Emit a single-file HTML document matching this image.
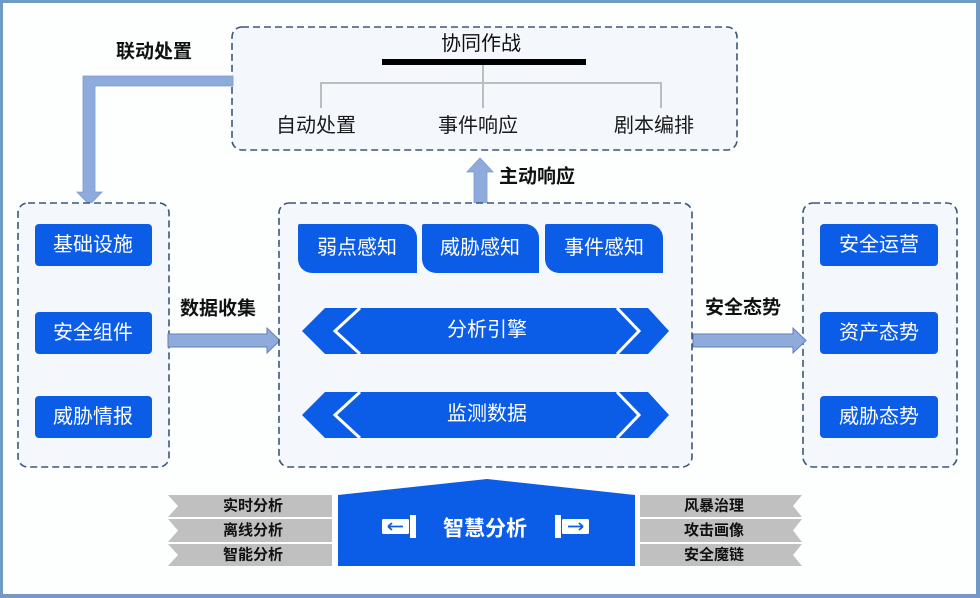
<!DOCTYPE html>
<html><head><meta charset="utf-8"><style>
html,body{margin:0;padding:0;background:#fff;}
svg{display:block;}
text{font-family:"Liberation Sans","Noto Sans CJK SC",sans-serif;}
</style></head><body>
<svg width="980" height="598" viewBox="0 0 980 598" xmlns="http://www.w3.org/2000/svg">
<rect x="0" y="0" width="980" height="598" fill="#fdfefe"/>
<!-- frame -->
<rect x="0" y="0" width="980" height="3" fill="#6f9ac6"/>
<rect x="0" y="0" width="3" height="598" fill="#6f9ac6"/>
<rect x="976" y="0" width="4" height="598" fill="#6f9ac6"/>
<rect x="0" y="594" width="980" height="4" fill="#7896c8"/>

<!-- top box -->
<rect x="232" y="27" width="505" height="123" rx="10" fill="#f4f7fc" stroke="#3c5679" stroke-width="1.6" stroke-dasharray="7 4"/>
<text x="481" y="44" font-size="20" text-anchor="middle" dominant-baseline="central" fill="#111">协同作战</text>
<rect x="382" y="59" width="204" height="6" fill="#000"/>
<g stroke="#bdbdbd" stroke-width="2" fill="none">
<line x1="483" y1="65" x2="483" y2="108"/>
<polyline points="321,108 321,83 661,83 661,108"/>
</g>
<text x="316" y="126" font-size="20" text-anchor="middle" dominant-baseline="central" fill="#1a1a1a">自动处置</text>
<text x="478" y="126" font-size="20" text-anchor="middle" dominant-baseline="central" fill="#1a1a1a">事件响应</text>
<text x="654" y="126" font-size="20" text-anchor="middle" dominant-baseline="central" fill="#1a1a1a">剧本编排</text>

<!-- 联动处置 elbow arrow -->
<text x="154" y="52" font-size="19" font-weight="bold" text-anchor="middle" dominant-baseline="central" fill="#111">联动处置</text>
<path d="M233,76 H83 V192 H77 L89.5,205 L102,192 H95 V86 H233 Z" fill="#8eabdc" stroke="#7a99d0" stroke-width="0.8"/>

<!-- 主动响应 up arrow -->
<path d="M474,203 V172 H467 L480,158 L493,172 H487 V203 Z" fill="#8eabdc" stroke="#7a99d0" stroke-width="0.8"/>
<text x="537" y="177" font-size="19" font-weight="bold" text-anchor="middle" dominant-baseline="central" fill="#111">主动响应</text>

<!-- left box -->
<rect x="18" y="203" width="151" height="264" rx="10" fill="#f4f7fc" stroke="#3c5679" stroke-width="1.6" stroke-dasharray="7 4"/>
<g fill="#0b5ce6">
<rect x="35" y="224" width="117" height="42" rx="4"/>
<rect x="35" y="312" width="117" height="42" rx="4"/>
<rect x="35" y="396" width="117" height="42" rx="4"/>
</g>
<g font-size="20" fill="#fff" text-anchor="middle" dominant-baseline="central">
<text x="93" y="245">基础设施</text>
<text x="93" y="333">安全组件</text>
<text x="93" y="417">威胁情报</text>
</g>

<!-- right box -->
<rect x="803" y="203" width="154" height="264" rx="10" fill="#f4f7fc" stroke="#3c5679" stroke-width="1.6" stroke-dasharray="7 4"/>
<g fill="#0b5ce6">
<rect x="820" y="224" width="118" height="42" rx="4"/>
<rect x="820" y="312" width="118" height="42" rx="4"/>
<rect x="820" y="396" width="118" height="42" rx="4"/>
</g>
<g font-size="20" fill="#fff" text-anchor="middle" dominant-baseline="central">
<text x="879" y="245">安全运营</text>
<text x="879" y="333">资产态势</text>
<text x="879" y="417">威胁态势</text>
</g>

<!-- data arrows -->
<text x="218" y="309" font-size="19" font-weight="bold" text-anchor="middle" dominant-baseline="central" fill="#111">数据收集</text>
<path d="M168,334 H267 V328 L280,340.5 L267,353 V347 H168 Z" fill="#8eabdc" stroke="#5f80bd" stroke-width="1"/>
<text x="743" y="308" font-size="19" font-weight="bold" text-anchor="middle" dominant-baseline="central" fill="#111">安全态势</text>
<path d="M693,334 H793 V328 L806,340.5 L793,353 V347 H693 Z" fill="#8eabdc" stroke="#5f80bd" stroke-width="1"/>

<!-- center box -->
<rect x="279" y="203" width="413" height="264" rx="10" fill="#f4f7fc" stroke="#3c5679" stroke-width="1.6" stroke-dasharray="7 4"/>
<g fill="#0b5ce6">
<path d="M298,226 Q298,224 300,224 H403 A14,14 0 0 1 417,238 V273 H312 A14,14 0 0 1 298,259 Z"/>
<path d="M422,226 Q422,224 424,224 H525 A14,14 0 0 1 539,238 V273 H436 A14,14 0 0 1 422,259 Z"/>
<path d="M545,226 Q545,224 547,224 H649 A14,14 0 0 1 663,238 V273 H559 A14,14 0 0 1 545,259 Z"/>
</g>
<g font-size="20" fill="#fff" text-anchor="middle" dominant-baseline="central">
<text x="357" y="248">弱点感知</text>
<text x="480" y="248">威胁感知</text>
<text x="604" y="248">事件感知</text>
</g>

<!-- banners -->
<polygon points="302,331 325,308 648,308 669,331 648,354 325,354" fill="#0b5ce6"/>
<polyline points="360,308 335,331 360,354" fill="none" stroke="#fff" stroke-width="3"/>
<polyline points="617,308 639,331 617,354" fill="none" stroke="#fff" stroke-width="3"/>
<text x="487" y="330" font-size="20" fill="#fff" text-anchor="middle" dominant-baseline="central">分析引擎</text>

<polygon points="302,415 325,392 648,392 669,415 648,438 325,438" fill="#0b5ce6"/>
<polyline points="360,392 335,415 360,438" fill="none" stroke="#fff" stroke-width="3"/>
<polyline points="617,392 639,415 617,438" fill="none" stroke="#fff" stroke-width="3"/>
<text x="487" y="414" font-size="20" fill="#fff" text-anchor="middle" dominant-baseline="central">监测数据</text>

<!-- bottom ribbons -->
<g fill="#c0c0c0">
<polygon points="168,495 332,495 332,517 168,517 178,506"/>
<polygon points="168,519 332,519 332,542 168,542 178,530.5"/>
<polygon points="168,544 332,544 332,566 168,566 178,555"/>
<polygon points="640,495 802,495 793,506 802,517 640,517"/>
<polygon points="640,519 802,519 793,530.5 802,542 640,542"/>
<polygon points="640,544 802,544 793,555 802,566 640,566"/>
</g>
<g font-size="15" font-weight="bold" fill="#111" text-anchor="middle" dominant-baseline="central">
<text x="253" y="506">实时分析</text>
<text x="253" y="530.5">离线分析</text>
<text x="253" y="555">智能分析</text>
<text x="714" y="506">风暴治理</text>
<text x="714" y="530.5">攻击画像</text>
<text x="714" y="555">安全魔链</text>
</g>

<!-- main blue -->
<polygon points="338,495 487,479 635,495 635,566 338,566" fill="#0b5ce6"/>
<!-- left icon -->
<rect x="382" y="519" width="27" height="15" rx="1.5" fill="#fff"/>
<rect x="410" y="515" width="6" height="23" fill="#fff"/>
<path d="M388,526.5 H403 M388,526.5 L392,523 M388,526.5 L392,530" stroke="#0b5ce6" stroke-width="1.8" fill="none"/>
<!-- right icon -->
<rect x="555" y="515" width="6" height="23" fill="#fff"/>
<rect x="562" y="519" width="27" height="15" rx="1.5" fill="#fff"/>
<path d="M568,526.5 H583 M583,526.5 L579,523 M583,526.5 L579,530" stroke="#0b5ce6" stroke-width="1.8" fill="none"/>
<text x="485" y="529" font-size="21" font-weight="bold" fill="#fff" text-anchor="middle" dominant-baseline="central">智慧分析</text>
</svg>
</body></html>
